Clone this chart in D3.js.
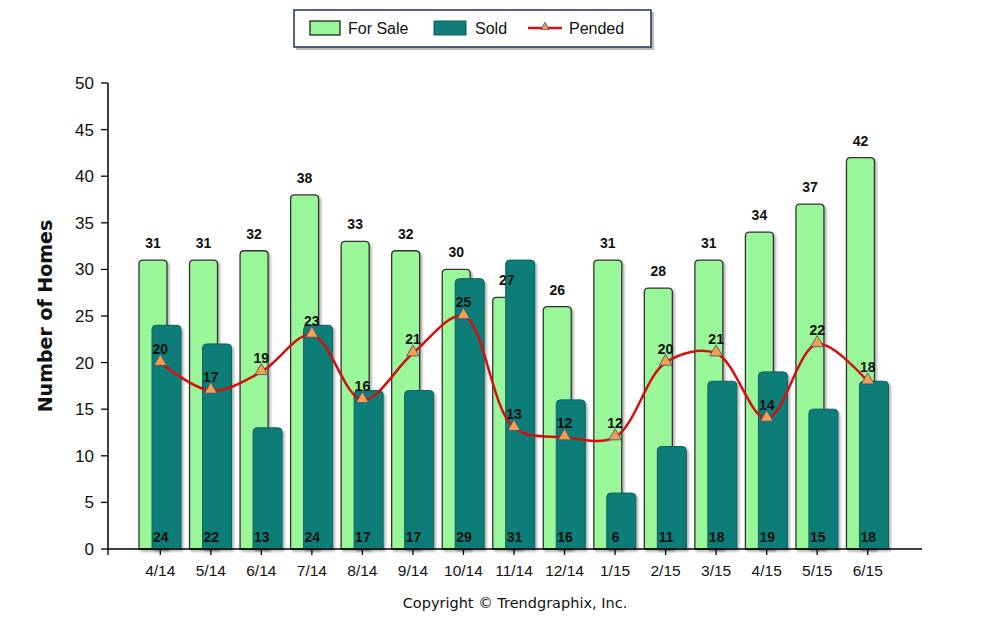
<!DOCTYPE html>
<html>
<head>
<meta charset="utf-8">
<script src="https://cdn.jsdelivr.net/npm/d3@7/dist/d3.min.js"></script>
<style>
  body { margin: 0; background: #fff; }
  text { font-family: "Liberation Sans", Arial, sans-serif; }
</style>
</head>
<body>
<div id="chart"></div>
<script>
// chart values
const months = ["4/14","5/14","6/14","7/14","8/14","9/14","10/14","11/14","12/14","1/15","2/15","3/15","4/15","5/15","6/15"];
const forSale = [31,31,32,38,33,32,30,27,26,31,28,31,34,37,42];
const sold = [24,22,13,24,17,17,29,31,16,6,11,18,19,15,18];
const pended = [20,17,19,23,16,21,25,13,12,12,20,21,14,22,18];
const yTicks = [0,5,10,15,20,25,30,35,40,45,50];

const width = 984, height = 642;
const svg = d3.select('#chart').append('svg')
    .attr('width', width)
    .attr('height', height);

const x = d3.scaleBand().domain(months).range([135, 893]);
const y = d3.scaleLinear().domain([0, 50]).range([549, 83]);

// rounded top bar
function barPath(x0, w, v) {
    let top = y(v), bottom = y(0), r = Math.min(4, (bottom - top) / 2);
    return `M${x0},${bottom}V${top + r}Q${x0},${top} ${x0 + r},${top}H${x0 + w - r}Q${x0 + w},${top} ${x0 + w},${top + r}V${bottom}Z`;
}

const defs = svg.append('defs');
const shadow = defs.append('filter').attr('id', 'shadow')
    .attr('x', '-20%').attr('y', '-20%').attr('width', '150%').attr('height', '150%');
shadow.append('feDropShadow').attr('dx', 2).attr('dy', 2).attr('stdDeviation', 1.2)
    .attr('flood-color', '#000').attr('flood-opacity', 0.3);

// for sale bars
svg.append('g').selectAll('path').data(forSale).join('path')
    .attr('d', (d, i) => barPath(x(months[i]) + 4, 28, d))
    .attr('fill', '#99f799')
    .attr('stroke', '#333')
    .attr('stroke-width', 1.3)
    .attr('filter', 'url(#shadow)');

// sold bars
svg.append('g').selectAll('path').data(sold).join('path')
    .attr('d', (d, i) => barPath(x(months[i]) + 17, 29, d))
    .attr('fill', '#117d78')
    .attr('stroke', '#0b5e5a')
    .attr('stroke-width', 1)
    .attr('filter', 'url(#shadow)');

// for sale labels
svg.append('g').selectAll('text').data(forSale).join('text')
    .attr('x', (d, i) => x(months[i]) + 18)
    .attr('y', d => y(d) - 12)
    .attr('text-anchor', 'middle')
    .attr('font-size', 14).attr('font-weight', 'bold')
    .attr('fill', '#111')
    .text(d => d);

// sold labels
svg.append('g').selectAll('text').data(sold).join('text')
    .attr('x', (d, i) => x(months[i]) + x.bandwidth() / 2 + 0.5)
    .attr('y', y(0) - 7)
    .attr('text-anchor', 'middle')
    .attr('font-size', 14).attr('font-weight', 'bold')
    .attr('fill', '#111')
    .text(d => d);

// pended line
const cx = i => x(months[i]) + x.bandwidth() / 2;
const line = d3.line()
    .x((d, i) => cx(i))
    .y(d => y(d))
    .curve(d3.curveCatmullRom.alpha(0.5));
svg.append('path').datum(pended)
    .attr('d', line)
    .attr('fill', 'none')
    .attr('stroke', '#d40f0f')
    .attr('stroke-width', 2.5);

const tri = d3.symbol().type(d3.symbolTriangle).size(70);
svg.append('g').selectAll('path').data(pended).join('path')
    .attr('d', tri)
    .attr('transform', (d, i) => `translate(${cx(i)},${y(d) - 1})`)
    .attr('fill', '#f5a04a')
    .attr('stroke', '#3a4a80')
    .attr('stroke-width', 0.8);

svg.append('g').selectAll('text').data(pended).join('text')
    .attr('x', (d, i) => cx(i))
    .attr('y', d => y(d) - 9)
    .attr('text-anchor', 'middle')
    .attr('font-size', 14).attr('font-weight', 'bold')
    .attr('fill', '#111')
    .text(d => d);

// y axis
const yAxis = svg.append('g');
yAxis.append('line').attr('x1', 108).attr('x2', 108).attr('y1', y(50)).attr('y2', y(0))
    .attr('stroke', '#000').attr('stroke-width', 1.5);
yAxis.selectAll('.tick').data(yTicks).join('line')
    .attr('x1', 101).attr('x2', 108)
    .attr('y1', d => y(d)).attr('y2', d => y(d))
    .attr('stroke', '#000').attr('stroke-width', 1.3);
yAxis.selectAll('text').data(yTicks).join('text')
    .attr('x', 94).attr('y', d => y(d) + 6)
    .attr('text-anchor', 'end')
    .attr('font-size', 17).attr('fill', '#111')
    .text(d => d);

// x axis
const xAxis = svg.append('g');
xAxis.append('line').attr('x1', 108).attr('x2', 922).attr('y1', y(0)).attr('y2', y(0))
    .attr('stroke', '#000').attr('stroke-width', 1.5);
xAxis.selectAll('.tick').data([108].concat(months.map((m, i) => cx(i)))).join('line')
    .attr('x1', d => d).attr('x2', d => d)
    .attr('y1', y(0)).attr('y2', y(0) + 6)
    .attr('stroke', '#000').attr('stroke-width', 1.3);
xAxis.selectAll('text').data(months).join('text')
    .attr('x', (d, i) => cx(i)).attr('y', 576)
    .attr('text-anchor', 'middle')
    .attr('font-size', 15.5).attr('fill', '#111')
    .text(d => d);

// axis titles
svg.append('text')
    .attr('transform', 'translate(52,316) rotate(-90)')
    .attr('text-anchor', 'middle')
    .style('font-family', '"DejaVu Sans", sans-serif')
    .attr('font-size', 19).attr('font-weight', 'bold').attr('fill', '#111')
    .text('Number of Homes');

svg.append('text')
    .attr('x', 515).attr('y', 608)
    .attr('text-anchor', 'middle')
    .style('font-family', '"DejaVu Sans", sans-serif')
    .attr('font-size', 14.5).attr('fill', '#111')
    .text('Copyright \u00A9 Trendgraphix, Inc.');

// legend
const legend = svg.append('g');
legend.append('rect').attr('x', 296).attr('y', 12).attr('width', 358).attr('height', 38)
    .attr('fill', '#bbb');
legend.append('rect').attr('x', 294).attr('y', 10).attr('width', 357).attr('height', 37)
    .attr('fill', '#fff').attr('stroke', '#1f2f5f').attr('stroke-width', 1.5);
legend.append('rect').attr('x', 310).attr('y', 21).attr('width', 30).attr('height', 14)
    .attr('fill', '#99f799').attr('stroke', '#222').attr('stroke-width', 1.3);
legend.append('text').attr('x', 348).attr('y', 34).attr('font-size', 16).attr('fill', '#111').text('For Sale');
legend.append('rect').attr('x', 434).attr('y', 21).attr('width', 32).attr('height', 14)
    .attr('fill', '#117d78').attr('stroke', '#0b5e5a');
legend.append('text').attr('x', 475).attr('y', 34).attr('font-size', 16).attr('fill', '#111').text('Sold');
legend.append('line').attr('x1', 528).attr('x2', 562).attr('y1', 28).attr('y2', 28)
    .attr('stroke', '#d40f0f').attr('stroke-width', 2.5);
legend.append('path').attr('d', d3.symbol().type(d3.symbolTriangle).size(30))
    .attr('transform', 'translate(545,27)')
    .attr('fill', '#f5a04a').attr('stroke', '#3a4a80').attr('stroke-width', 0.8);
legend.append('text').attr('x', 569).attr('y', 34).attr('font-size', 16).attr('fill', '#111').text('Pended');
</script>
</body>
</html>
